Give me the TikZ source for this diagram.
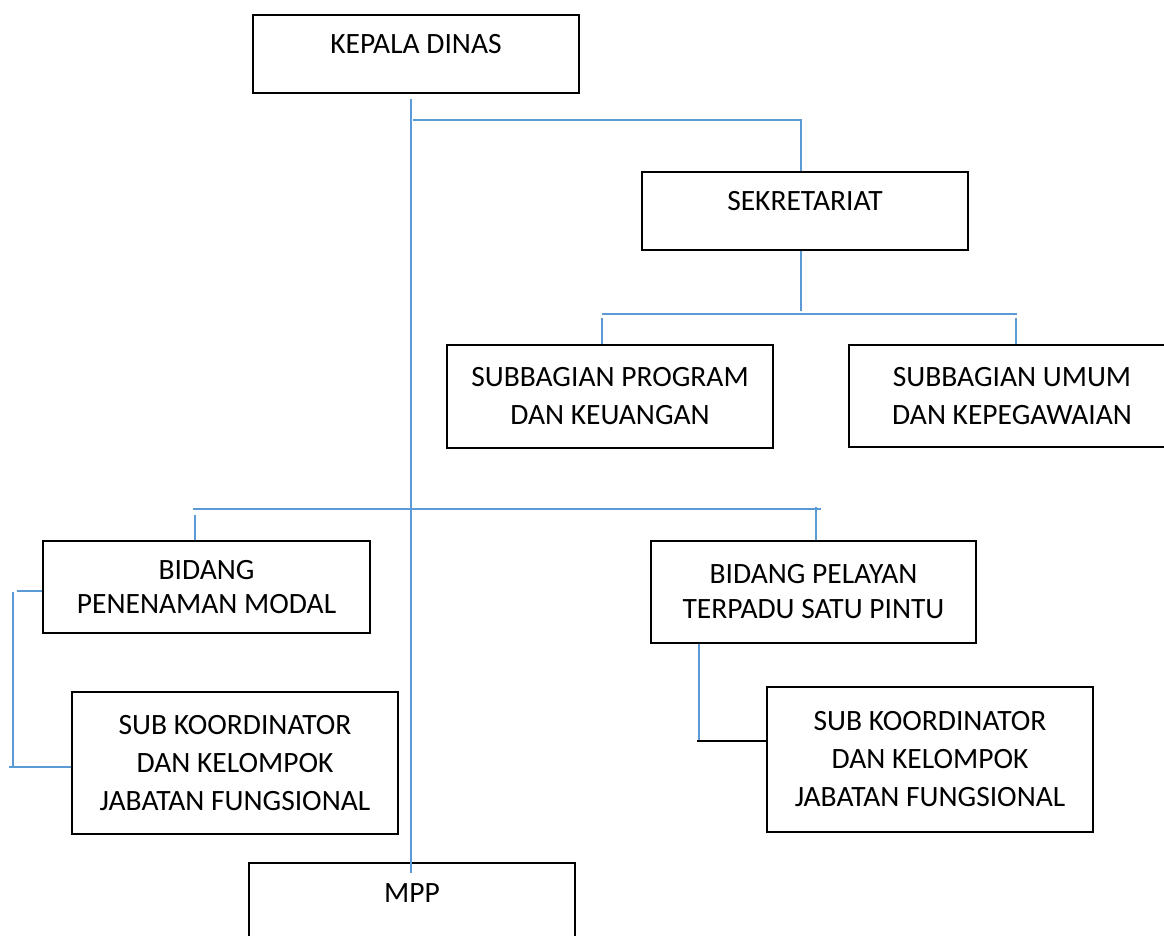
\documentclass[tikz,border=0pt]{standalone}
\usepackage{fontspec}
\setmainfont{Carlito}
\definecolor{connblue}{RGB}{91,155,213}
\begin{document}
\begin{tikzpicture}[x=1pt,y=-1pt,
  orgbox/.style={draw=black, line width=1.3pt, rectangle, inner sep=0pt, align=center,
    minimum width=326pt, font=\fontsize{29.5}{34}\selectfont},
  oneline/.style={text height=18pt, text depth=18pt},
  wide/.style={font=\fontsize{29.5}{38}\selectfont},
  conn/.style={draw=connblue, line width=1.2pt}]
\useasboundingbox (0,0) rectangle (1164,936);
\clip (0,0) rectangle (1164,936);
\fill[white] (0,0) rectangle (1164,936);

% boxes
\node[orgbox, oneline, minimum height=78pt] (kd) at (416,54) {KEPALA DINAS};
\node[orgbox, oneline, minimum height=78pt] (sek) at (805,211) {SEKRETARIAT};
\node[orgbox, wide, minimum height=103pt] (sp) at (610,396.5) {SUBBAGIAN PROGRAM\\DAN KEUANGAN};
\node[orgbox, wide, minimum height=102pt] (su) at (1012,396) {SUBBAGIAN UMUM\\DAN KEPEGAWAIAN};
\node[orgbox, minimum width=327pt, minimum height=92pt] (bpm) at (206.5,587) {BIDANG\\PENENAMAN MODAL};
\node[orgbox, minimum width=325pt, minimum height=102pt, font=\fontsize{29.5}{35}\selectfont] (bpt) at (813.5,592) {BIDANG PELAYAN\\TERPADU SATU PINTU};
\node[orgbox, wide, minimum height=142pt] (skl) at (235,763) {SUB KOORDINATOR\\DAN KELOMPOK\\JABATAN FUNGSIONAL};
\node[orgbox, wide, minimum height=145pt] (skr) at (930,759.5) {SUB KOORDINATOR\\DAN KELOMPOK\\JABATAN FUNGSIONAL};
\node[orgbox, oneline, minimum height=78pt] (mpp) at (412,902) {MPP};

% main vertical
\coordinate (v0) at (411,99);
\coordinate (v1) at (411,873);
\draw[conn] (v0) -- (v1);

% to sekretariat
\coordinate (a1) at (413,120);
\coordinate (a2) at (801,120);
\draw[conn] (a1) -- (a2) -- (a2 |- sek.north);

% sekretariat to subbagian
\coordinate (b1) at (801,311);
\draw[conn] (b1 |- sek.south) -- (b1);
\coordinate (b2) at (602,314);
\coordinate (b3) at (1017,314);
\draw[conn] (b2) -- (b3);
\coordinate (b4) at (602,318);
\draw[conn] (b4) -- (b4 |- sp.north);
\coordinate (b5) at (1016,318);
\draw[conn] (b5) -- (b5 |- su.north);

% bidang bar
\coordinate (c1) at (193,509);
\coordinate (c2) at (821,509);
\draw[conn] (c1) -- (c2);
\coordinate (c3) at (195,515);
\draw[conn] (c3) -- (c3 |- bpm.north);
\coordinate (c4) at (816,507);
\draw[conn] (c4) -- (c4 |- bpt.north);

% left branch
\coordinate (d1) at (17,591);
\draw[conn] (d1) -- (d1 -| bpm.west);
\coordinate (d2) at (13,592);
\coordinate (d3) at (13,768);
\draw[conn] (d2) -- (d3);
\coordinate (d4) at (9,767);
\draw[conn] (d4) -- (d4 -| skl.west);

% right branch
\coordinate (e1) at (699,740);
\draw[conn] (e1 |- bpt.south) -- (e1);
\coordinate (e2) at (697,741);
\draw[black, line width=1.2pt] (e2) -- (e2 -| skr.west);
\end{tikzpicture}
\end{document}
